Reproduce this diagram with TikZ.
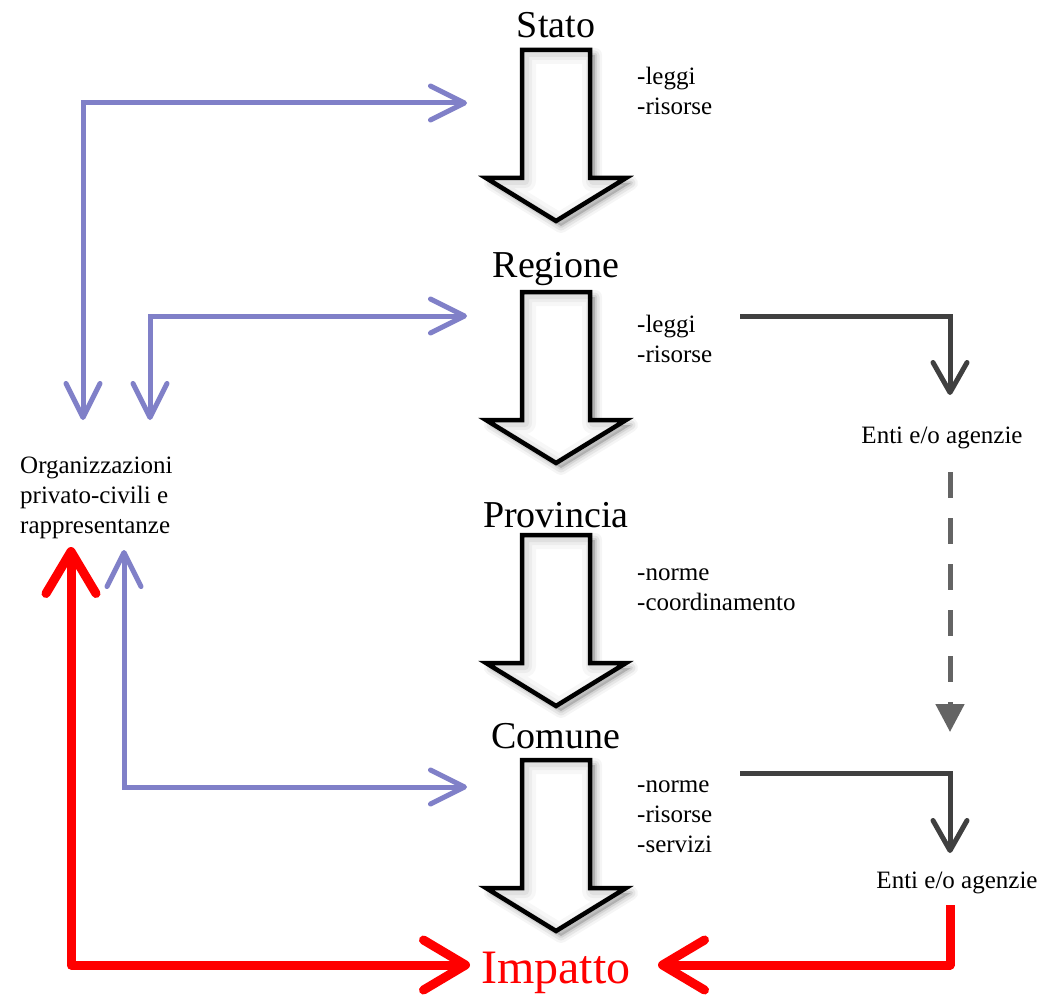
\documentclass[tikz,border=0pt]{standalone}
\usepackage{fontspec}
\setmainfont{Liberation Serif}
\usetikzlibrary{arrows.meta}
\definecolor{lav}{RGB}{128,128,200}
\definecolor{dgray}{RGB}{64,64,64}
\definecolor{mgray}{RGB}{100,100,100}
\newcommand\blkarrowpath{(-34,0) -- (34,0) -- (34,128) -- (70,128) -- (0,171) -- (-70,128) -- (-34,128) -- cycle}
\tikzset{
  blockarrow/.pic={
    \foreach \w/\o in {14/0.04,9/0.06,4/0.08}
      \draw[draw=black, fill=black, opacity=\o, line width=\w pt, line join=round, shift={(5,5)}] \blkarrowpath;
    \fill[white] \blkarrowpath;
    \begin{scope}
      \clip \blkarrowpath;
      \foreach \w/\o in {22/0.03,14/0.04,8/0.05}
        \draw[black, opacity=\o, line width=\w pt, line join=round, shift={(3,3)}] \blkarrowpath;
    \end{scope}
    \draw[line width=4.5pt, line join=miter] \blkarrowpath;
  },
  title/.style={anchor=base, inner sep=0pt, font=\fontsize{38}{40}\selectfont},
  lbl/.style={anchor=base west, inner sep=0pt, align=left, font=\fontsize{25}{30}\selectfont},
  lblc/.style={anchor=base, inner sep=0pt, font=\fontsize{25}{30}\selectfont},
  bluetip/.tip={Straight Barb[length=34pt,width=34pt,round]},
  redtip/.tip={Straight Barb[length=42pt,width=50pt,round]},
  graytip/.tip={Straight Barb[length=30pt,width=34pt,round]},
  bluec/.style={line width=5pt, lav, bluetip-bluetip},
  redc/.style={line width=9pt, red, line join=round},
  grayc/.style={line width=5pt, dgray, -graytip},
  dashc/.style={line width=5pt, mgray, dash pattern=on 26pt off 20pt, -{Triangle[length=28pt,width=28pt]}}
}
\begin{document}
\begin{tikzpicture}[x=1pt,y=-1pt]
\useasboundingbox[fill=white] (0,0) rectangle (1051,995);

% block arrows
\pic at (556,50) {blockarrow};
\pic at (556,292) {blockarrow};
\pic at (556,535) {blockarrow};
\pic at (556,760) {blockarrow};

% titles
\node[title] (stato) at (556,38) {Stato};
\node[title] (regione) at (556,277) {Regione};
\node[title] (provincia) at (556,527) {Provincia};
\node[title] (comune) at (556,748) {Comune};
\node[anchor=base, inner sep=0pt, text=red, font=\fontsize{48}{50}\selectfont] (imp) at (556,983) {Impatto};

% side labels (anchor = baseline of last line)
\node[lbl] (statoL) at (637,115) {-leggi\\-risorse};
\node[lbl] (regioneL) at (637,362) {-leggi\\-risorse};
\node[lbl] (provinciaL) at (637,610) {-norme\\-coordinamento};
\node[lbl] (comuneL) at (637,852) {-norme\\-risorse\\-servizi};
\node[lbl] (org) at (20,533) {Organizzazioni\\privato-civili e\\rappresentanze};
\node[lblc] (enti1) at (942,443) {Enti e/o agenzie};
\node[lblc] (enti2) at (957,888) {Enti e/o agenzie};

% connector ends
\coordinate (sIn) at (467,103);
\coordinate (rIn) at (467,316);
\coordinate (cIn) at (467,787);
\coordinate (oA) at (83,420);
\coordinate (oB) at (150,420);
\coordinate (oC) at (124,550);
\coordinate (oD) at (71,547);
\coordinate (impL) at (470,965);
\coordinate (impR) at (658,965);
\coordinate (e2B) at (950,905);
\coordinate (rOut) at (740,316);
\coordinate (e1T) at (950,395);
\coordinate (e1B) at (950,472);
\coordinate (e2T0) at (950,732);
\coordinate (cOut) at (740,773);
\coordinate (e2T) at (950,853);

% blue connectors
\draw[bluec] (oA) |- (sIn);
\draw[bluec] (oB) |- (rIn);
\draw[bluec] (oC) |- (cIn);

% gray connectors
\draw[grayc] (rOut) -| (e1T);
\draw[dashc] (e1B) -- (e2T0);
\draw[grayc] (cOut) -| (e2T);

% red connectors
\draw[redc, redtip-redtip] (oD) |- (impL);
\draw[redc, -redtip] (e2B) |- (impR);
\end{tikzpicture}
\end{document}
